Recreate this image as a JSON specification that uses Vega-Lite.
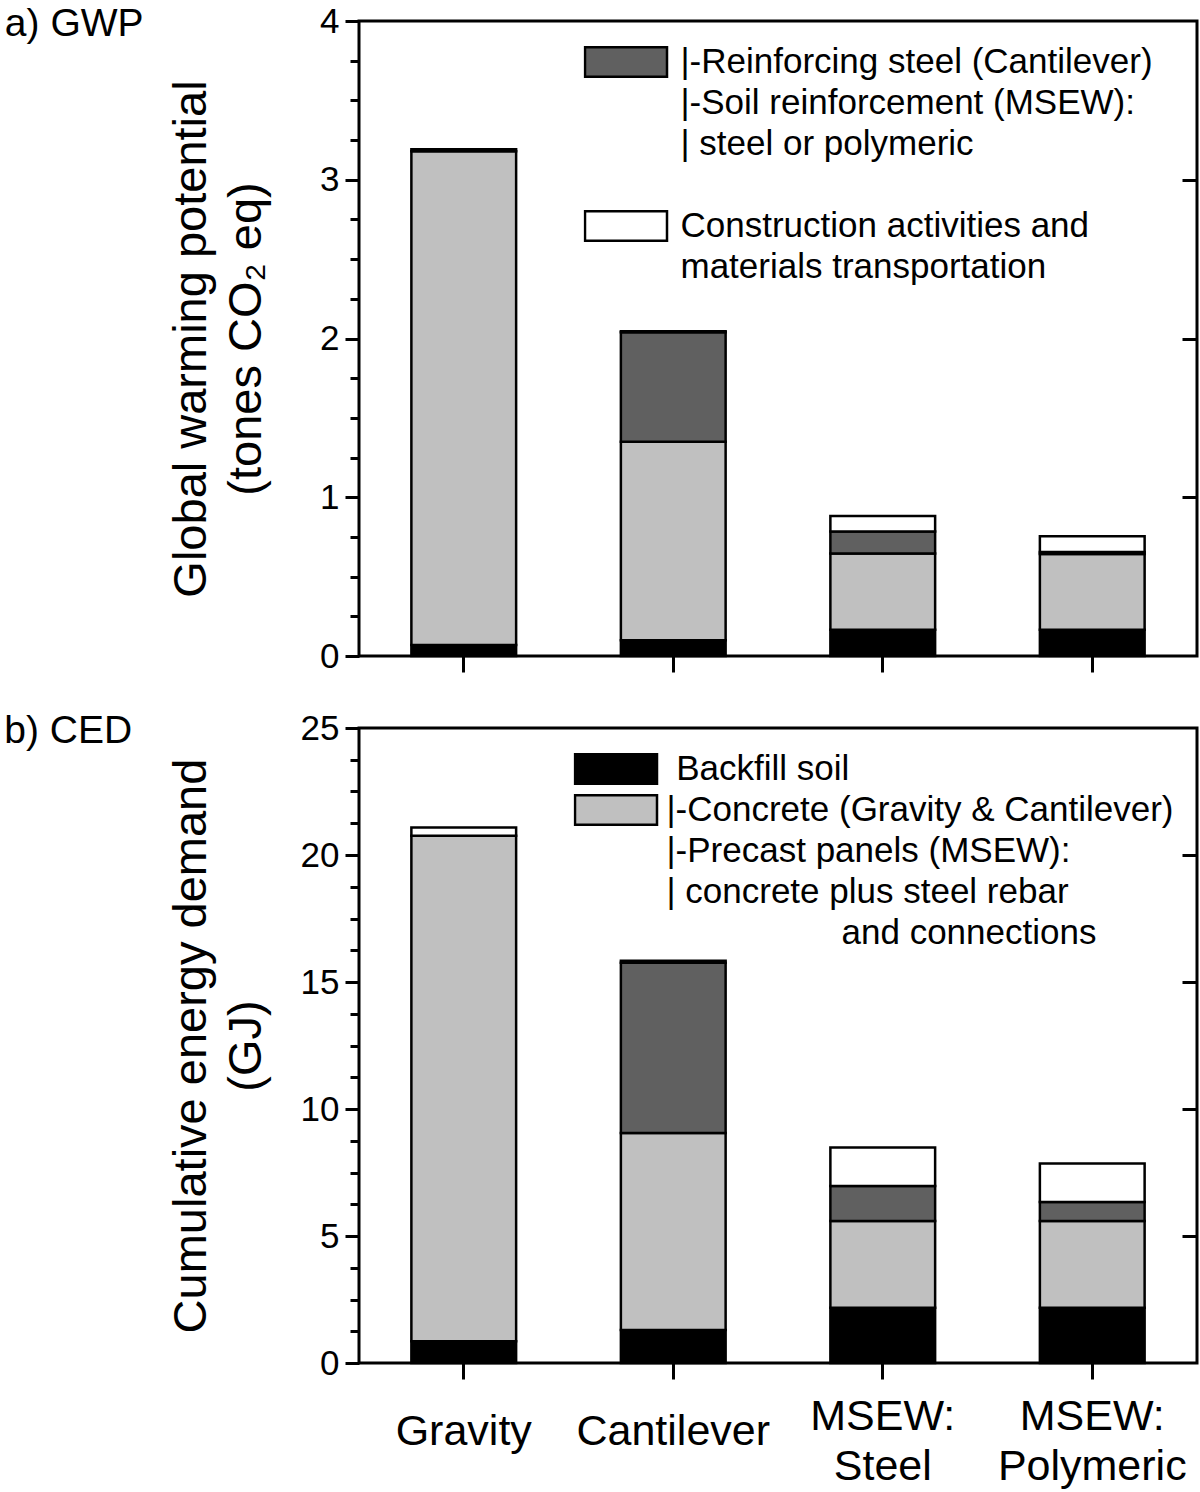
{
  "$schema": "https://vega.github.io/schema/vega-lite/v6.json",
  "description": "Stacked GWP and CED bars for four retaining wall types.",
  "background": "white",
  "padding": {"left": 2, "top": 2, "right": 2, "bottom": 2},
  "datasets": {
    "walls": [
      {"wall": "Gravity", "part": "Backfill", "tier": 1, "gwp": 0.07, "ced": 0.86},
      {"wall": "Gravity", "part": "Concrete", "tier": 2, "gwp": 3.11, "ced": 19.9},
      {"wall": "Gravity", "part": "Transport", "tier": 4, "gwp": 0.012, "ced": 0.32},
      {"wall": "Cantilever", "part": "Backfill", "tier": 1, "gwp": 0.1, "ced": 1.3},
      {"wall": "Cantilever", "part": "Concrete", "tier": 2, "gwp": 1.25, "ced": 7.76},
      {"wall": "Cantilever", "part": "Reinforcement", "tier": 3, "gwp": 0.69, "ced": 6.7},
      {"wall": "Cantilever", "part": "Transport", "tier": 4, "gwp": 0.006, "ced": 0.08},
      {"wall": "MSEW: Steel", "part": "Backfill", "tier": 1, "gwp": 0.165, "ced": 2.18},
      {"wall": "MSEW: Steel", "part": "Concrete", "tier": 2, "gwp": 0.48, "ced": 3.41},
      {"wall": "MSEW: Steel", "part": "Reinforcement", "tier": 3, "gwp": 0.14, "ced": 1.38},
      {"wall": "MSEW: Steel", "part": "Transport", "tier": 4, "gwp": 0.097, "ced": 1.51},
      {"wall": "MSEW: Polymeric", "part": "Backfill", "tier": 1, "gwp": 0.165, "ced": 2.18},
      {"wall": "MSEW: Polymeric", "part": "Concrete", "tier": 2, "gwp": 0.478, "ced": 3.41},
      {"wall": "MSEW: Polymeric", "part": "Reinforcement", "tier": 3, "gwp": 0.012, "ced": 0.75},
      {"wall": "MSEW: Polymeric", "part": "Transport", "tier": 4, "gwp": 0.1, "ced": 1.51}
    ]
  },
  "spacing": 33,
  "vconcat": [
    {
      "width": 838,
      "height": 635,
      "title": {"text": "a) GWP", "orient": "left", "anchor": "end", "frame": "group", "angle": 0, "align": "left", "baseline": "middle", "offset": 24, "dy": 3, "fontSize": 39},
      "layer": [
        {
          "data": {"name": "walls"},
          "mark": {"type": "bar", "strokeWidth": 2.5},
          "encoding": {
            "x": {
              "field": "wall", "type": "nominal",
              "sort": ["Gravity", "Cantilever", "MSEW: Steel", "MSEW: Polymeric"],
              "scale": {"paddingInner": 0.5, "paddingOuter": 0.25},
              "axis": {"labels": false, "title": null, "tickSize": 16, "bandPosition": 0.5}
            },
            "y": {
              "field": "gwp", "type": "quantitative", "stack": "zero",
              "scale": {"domain": [0, 4], "nice": false},
              "axis": {"orient": "left", "values": [0, 1, 2, 3, 4], "tickSize": 14, "titlePadding": 49,
                       "title": ["Global warming potential", "(tones CO₂ eq)"]}
            },
            "order": {"field": "tier"},
            "color": {
              "field": "part", "type": "nominal",
              "scale": {
                "domain": ["Backfill", "Concrete", "Reinforcement", "Transport", "|-Soil reinforcement (MSEW):", "|\u00a0steel or polymeric", "\u00a0", "materials transportation"],
                "range": ["#000000", "#c0c0c0", "#606060", "#ffffff", "transparent", "transparent", "transparent", "transparent"]
              },
              "legend": {
                "title": null, "orient": "none", "legendX": 224.5, "legendY": 23, "direction": "vertical",
                "values": ["Reinforcement", "|-Soil reinforcement (MSEW):", "|\u00a0steel or polymeric", "\u00a0", "Transport", "materials transportation"],
                "labelExpr": "datum.value == 'Reinforcement' ? '|-Reinforcing steel (Cantilever)' : datum.value == 'Transport' ? 'Construction activities and' : datum.label",
                "labelOffset": 12, "symbolType": "M-1,-0.36H1V0.36H-1Z", "symbolSize": 6724, "symbolStrokeWidth": 2.5,
                "clipHeight": 36, "rowPadding": 5, "padding": 0, "labelLimit": 1000
              }
            },
            "stroke": {
              "field": "part", "type": "nominal",
              "scale": {
                "domain": ["Backfill", "Concrete", "Reinforcement", "Transport", "|-Soil reinforcement (MSEW):", "|\u00a0steel or polymeric", "\u00a0", "materials transportation"],
                "range": ["#000000", "#000000", "#000000", "#000000", "transparent", "transparent", "transparent", "transparent"]
              },
              "legend": {
                "title": null, "orient": "none", "legendX": 224.5, "legendY": 23, "direction": "vertical",
                "values": ["Reinforcement", "|-Soil reinforcement (MSEW):", "|\u00a0steel or polymeric", "\u00a0", "Transport", "materials transportation"],
                "labelExpr": "datum.value == 'Reinforcement' ? '|-Reinforcing steel (Cantilever)' : datum.value == 'Transport' ? 'Construction activities and' : datum.label",
                "labelOffset": 12, "symbolType": "M-1,-0.36H1V0.36H-1Z", "symbolSize": 6724, "symbolStrokeWidth": 2.5,
                "clipHeight": 36, "rowPadding": 5, "padding": 0, "labelLimit": 1000
              }
            }
          }
        },
        {
          "data": {"name": "walls"},
          "mark": {"type": "rule", "opacity": 0},
          "encoding": {
            "y": {
              "field": "gwp", "type": "quantitative",
              "scale": {"domain": [0, 4], "nice": false},
              "axis": {"orient": "left", "values": [0.25, 0.5, 0.75, 1.25, 1.5, 1.75, 2.25, 2.5, 2.75, 3.25, 3.5, 3.75],
                       "labels": false, "tickSize": 9, "title": null}
            }
          }
        },
        {
          "data": {"name": "walls"},
          "mark": {"type": "rule", "opacity": 0},
          "encoding": {
            "y": {
              "field": "gwp", "type": "quantitative",
              "scale": {"domain": [0, 4], "nice": false},
              "axis": {"orient": "right", "offset": -15, "values": [1, 2, 3], "labels": false, "tickSize": 15, "title": null}
            }
          }
        }
      ],
      "resolve": {"axis": {"y": "independent"}}
    },
    {
      "width": 838,
      "height": 635,
      "title": {"text": "b) CED", "orient": "left", "anchor": "end", "frame": "group", "angle": 0, "align": "left", "baseline": "middle", "offset": 35, "dy": 3, "fontSize": 39},
      "layer": [
        {
          "data": {"name": "walls"},
          "mark": {"type": "bar", "strokeWidth": 2.5},
          "encoding": {
            "x": {
              "field": "wall", "type": "nominal",
              "sort": ["Gravity", "Cantilever", "MSEW: Steel", "MSEW: Polymeric"],
              "scale": {"paddingInner": 0.5, "paddingOuter": 0.25},
              "axis": {"title": null, "tickSize": 16, "bandPosition": 0.5, "labelAngle": 0,
                       "labelExpr": "split(datum.label, ' ')", "labelFontSize": 43, "labelLineHeight": 50,
                       "labelBaseline": "middle", "labelLimit": 400,
                       "labelPadding": {"condition": {"test": "datum.value == 'Gravity' || datum.value == 'Cantilever'", "value": 52}, "value": 37}}
            },
            "y": {
              "field": "ced", "type": "quantitative", "stack": "zero",
              "scale": {"domain": [0, 25], "nice": false},
              "axis": {"orient": "left", "values": [0, 5, 10, 15, 20, 25], "tickSize": 14, "titlePadding": 30,
                       "title": ["Cumulative energy demand", "(GJ)"]}
            },
            "order": {"field": "tier"},
            "color": {
              "field": "part", "type": "nominal",
              "scale": {
                "domain": ["Backfill", "Concrete", "Reinforcement", "Transport", "|-Precast panels (MSEW):", "|\u00a0concrete plus steel rebar", "\u200b\u00a0\u00a0\u00a0\u00a0\u00a0\u00a0\u00a0\u00a0\u00a0\u00a0\u00a0\u00a0\u00a0\u00a0\u00a0\u00a0\u00a0\u00a0and connections"],
                "range": ["#000000", "#c0c0c0", "#606060", "#ffffff", "transparent", "transparent", "transparent"]
              },
              "legend": {
                "title": null, "orient": "none", "legendX": 214.5, "legendY": 23, "direction": "vertical",
                "values": ["Backfill", "Concrete", "|-Precast panels (MSEW):", "|\u00a0concrete plus steel rebar", "\u200b\u00a0\u00a0\u00a0\u00a0\u00a0\u00a0\u00a0\u00a0\u00a0\u00a0\u00a0\u00a0\u00a0\u00a0\u00a0\u00a0\u00a0\u00a0and connections"],
                "labelExpr": "datum.value == 'Backfill' ? '\u200b\u00a0Backfill soil' : datum.value == 'Concrete' ? '|-Concrete (Gravity & Cantilever)' : datum.label",
                "labelOffset": 8, "symbolType": "M-1,-0.36H1V0.36H-1Z", "symbolSize": 6724, "symbolStrokeWidth": 2.5,
                "clipHeight": 36, "rowPadding": 5, "padding": 0, "labelLimit": 1000
              }
            },
            "stroke": {
              "field": "part", "type": "nominal",
              "scale": {
                "domain": ["Backfill", "Concrete", "Reinforcement", "Transport", "|-Precast panels (MSEW):", "|\u00a0concrete plus steel rebar", "\u200b\u00a0\u00a0\u00a0\u00a0\u00a0\u00a0\u00a0\u00a0\u00a0\u00a0\u00a0\u00a0\u00a0\u00a0\u00a0\u00a0\u00a0\u00a0and connections"],
                "range": ["#000000", "#000000", "#000000", "#000000", "transparent", "transparent", "transparent"]
              },
              "legend": {
                "title": null, "orient": "none", "legendX": 214.5, "legendY": 23, "direction": "vertical",
                "values": ["Backfill", "Concrete", "|-Precast panels (MSEW):", "|\u00a0concrete plus steel rebar", "\u200b\u00a0\u00a0\u00a0\u00a0\u00a0\u00a0\u00a0\u00a0\u00a0\u00a0\u00a0\u00a0\u00a0\u00a0\u00a0\u00a0\u00a0\u00a0and connections"],
                "labelExpr": "datum.value == 'Backfill' ? '\u200b\u00a0Backfill soil' : datum.value == 'Concrete' ? '|-Concrete (Gravity & Cantilever)' : datum.label",
                "labelOffset": 8, "symbolType": "M-1,-0.36H1V0.36H-1Z", "symbolSize": 6724, "symbolStrokeWidth": 2.5,
                "clipHeight": 36, "rowPadding": 5, "padding": 0, "labelLimit": 1000
              }
            }
          }
        },
        {
          "data": {"name": "walls"},
          "mark": {"type": "rule", "opacity": 0},
          "encoding": {
            "y": {
              "field": "ced", "type": "quantitative",
              "scale": {"domain": [0, 25], "nice": false},
              "axis": {"orient": "left", "values": [1.25, 2.5, 3.75, 6.25, 7.5, 8.75, 11.25, 12.5, 13.75, 16.25, 17.5, 18.75, 21.25, 22.5, 23.75],
                       "labels": false, "tickSize": 9, "title": null}
            }
          }
        },
        {
          "data": {"name": "walls"},
          "mark": {"type": "rule", "opacity": 0},
          "encoding": {
            "y": {
              "field": "ced", "type": "quantitative",
              "scale": {"domain": [0, 25], "nice": false},
              "axis": {"orient": "right", "offset": -15, "values": [5, 10, 15, 20], "labels": false, "tickSize": 15, "title": null}
            }
          }
        }
      ],
      "resolve": {"axis": {"y": "independent"}}
    }
  ],
  "resolve": {"scale": {"x": "independent", "y": "independent", "color": "independent", "stroke": "independent"}},
  "config": {
    "font": "Liberation Sans",
    "view": {"stroke": "#000000", "strokeWidth": 3},
    "title": {"font": "Liberation Sans", "fontWeight": "normal", "color": "#000000"},
    "axis": {
      "labelFont": "Liberation Sans", "labelFontSize": 35, "labelColor": "#000000", "labelPadding": 6,
      "titleFont": "Liberation Sans", "titleFontSize": 47, "titleFontWeight": "normal", "titleColor": "#000000", "titleLineHeight": 55,
      "tickColor": "#000000", "tickWidth": 3, "domain": false, "grid": false
    },
    "legend": {"labelFont": "Liberation Sans", "labelFontSize": 35, "labelColor": "#000000"}
  }
}
